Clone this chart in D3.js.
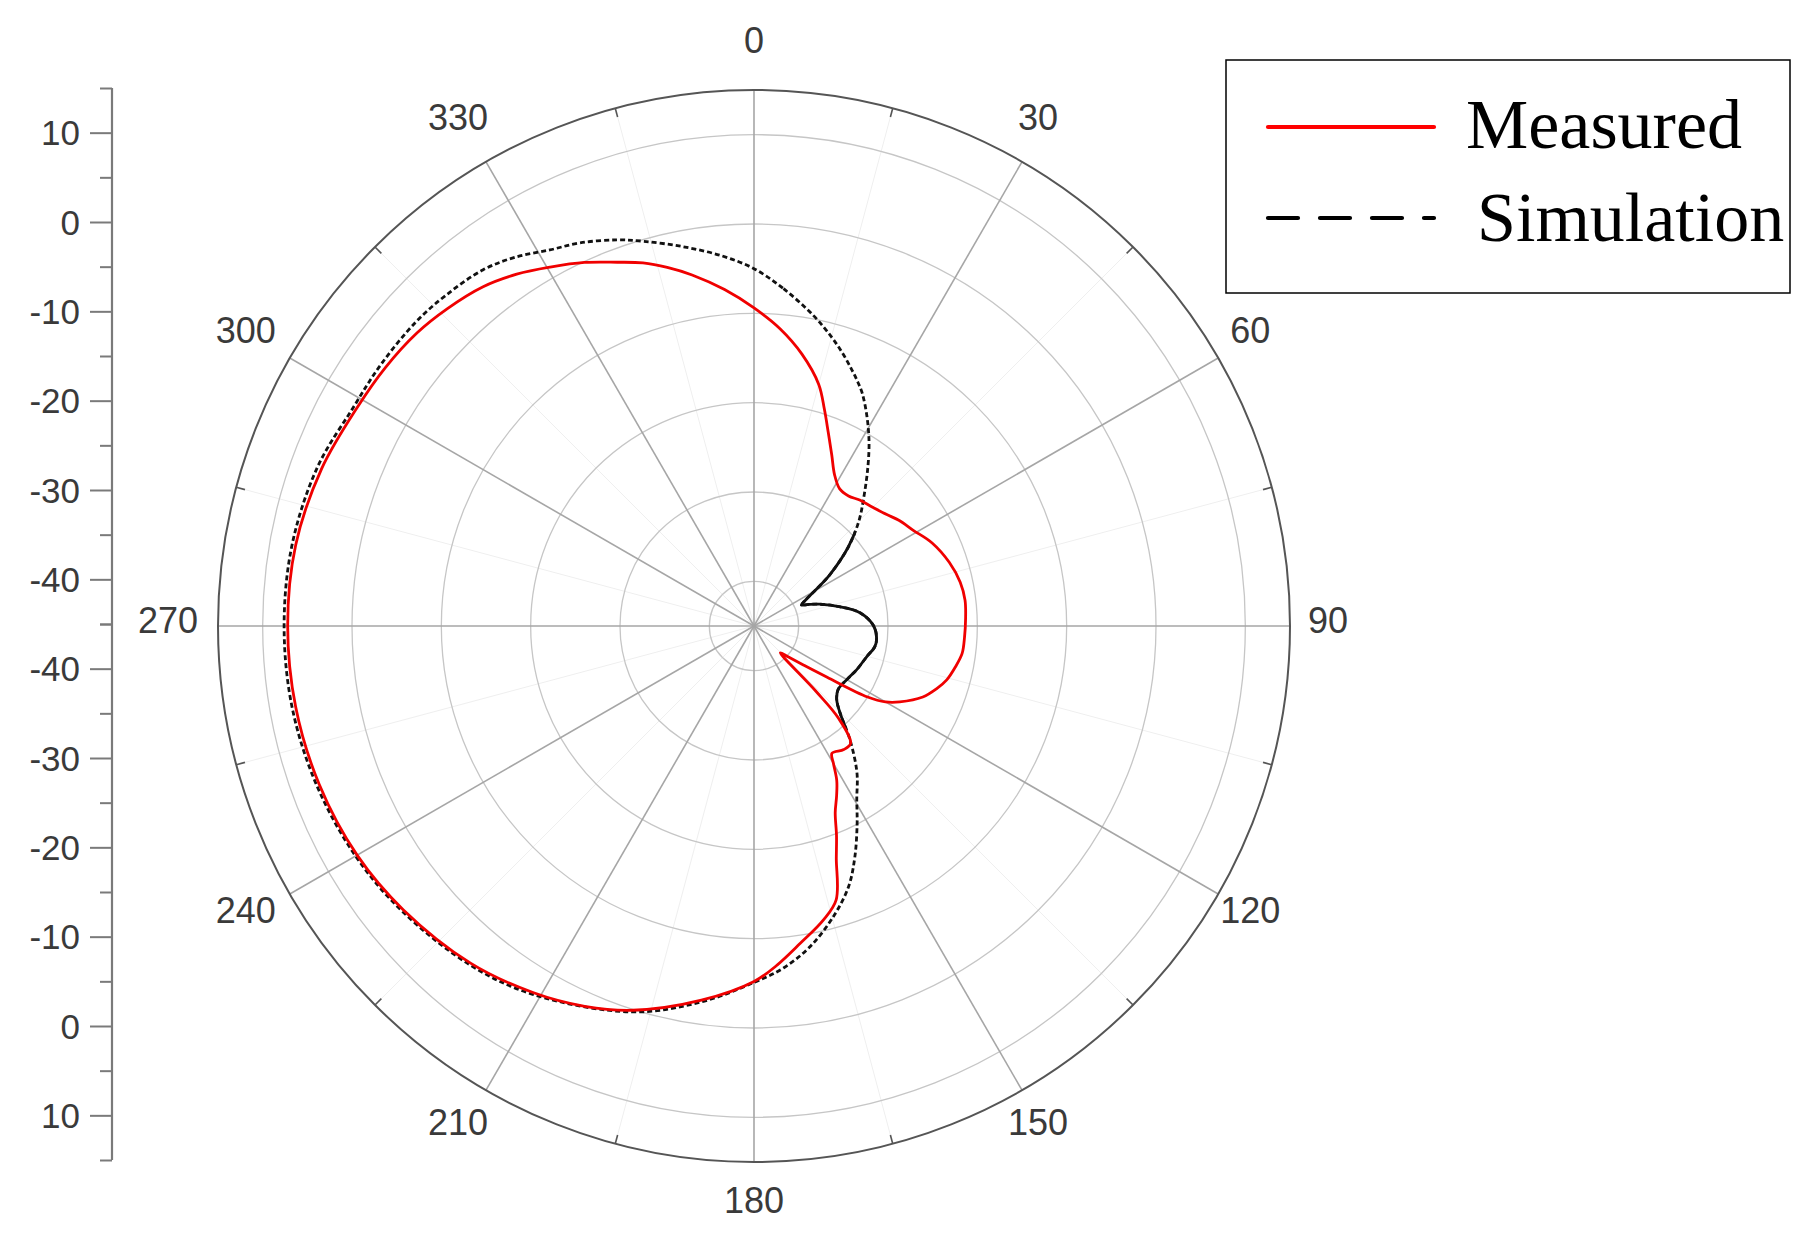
<!DOCTYPE html>
<html>
<head>
<meta charset="utf-8">
<script src="https://cdn.jsdelivr.net/npm/d3@7"></script>
<style>
  html, body { margin: 0; padding: 0; background: #ffffff; }
  svg { display: block; }
</style>
</head>
<body>
<svg id="chart" width="1817" height="1240"></svg>
<script>
// ---------------- data ----------------
const angleTicks = [0, 30, 60, 90, 120, 150, 180, 210, 240, 270, 300, 330];
const minorAngleTicks = [15, 45, 75, 105, 135, 165, 195, 225, 255, 285, 315, 345];
const radialGridValues = [-40, -30, -20, -10, 0, 10];
const axisMajorTicks = [10, 0, -10, -20, -30, -40];
const axisMinorTicks = [15, 5, -5, -15, -25, -35, -45];

const measuredAngles = [0, 5, 10, 15, 18, 21, 24.5, 28, 32, 36, 40, 45, 50, 54, 59, 65, 72, 78, 83, 88, 93, 97.5,
  101.5, 105.6, 109, 112.8, 117.5, 120, 122, 125, 128.2, 132, 135.5, 136.5, 137.5, 140.5, 144, 148.5, 150, 151.8,
  154, 156.5, 158.5, 160.5, 163.3, 166.7, 171.7, 176, 180, 188, 197.5, 204, 211, 220, 231, 240, 250, 260, 270,
  280, 290, 299, 305, 311, 316, 321.4, 326, 330.4, 335, 339.4, 343, 346.4, 350, 355];
const measuredValues = [-9.4, -11.6, -14.1, -17.0, -19.5, -21.8, -24.0, -25.8, -26.9, -27.0, -26.6, -26.2, -25.6, -24.9, -24.2, -23.0, -22.0, -21.4, -21.2, -21.3, -21.4, -21.5,
  -22.0, -22.6, -23.4, -24.5, -26.6, -28.0, -30.0, -35.0, -37.9, -39.8, -40.8, -35.0, -31.0, -28.0, -27.9, -28.3, -27.2, -25.4,
  -23.9, -22.2, -19.8, -17.4, -13.0, -11.2, -9.1, -7.0, -5.2, -2.7, 0.1, 1.6, 2.9, 4.3, 5.5, 6.3, 6.8, 7.1, 7.2,
  7.1, 6.5, 5.7, 5.4, 5.0, 4.4, 3.6, 2.5, 1.2, -0.1, -1.5, -2.5, -3.7, -5.1, -7.2];

const simulationAngles = [0, 5, 10.8, 15, 18, 20.9, 23, 25, 28.4, 32, 35.6, 40, 45, 50, 56, 60, 63.5, 66.2, 68.5, 71.5, 77.5,
  83, 90, 96, 100, 105, 113, 120, 127, 131.7, 135.3, 139.9, 145, 149.4, 152.5, 156.4, 160, 164.5, 170, 175, 180,
  188, 197.5, 211, 220, 231, 240, 250, 260, 270, 280, 290, 298.5, 305, 312, 317, 322.7, 327, 331.5, 335.6, 340.5,
  344, 349.4, 355];
const simulationValues = [-5.0, -7.1, -9.6, -11.5, -12.9, -14.3, -15.3, -16.3, -18.4, -20.7, -23.1, -25.8, -28.4, -31.2, -34.8, -37.2, -38.6, -39.2, -38.4, -37.3, -35.1,
  -33.0, -31.6, -31.2, -31.3, -31.9, -32.5, -33.0, -33.2, -32.6, -31.3, -28.3, -24.9, -22.4, -20.0, -16.8, -14.0, -11.4, -8.6, -6.6, -5.1,
  -2.5, 0.3, 3.1, 4.5, 5.7, 6.5, 7.1, 7.5, 7.6, 7.5, 7.0, 6.1, 6.0, 5.9, 5.6, 5.1, 4.2, 2.9, 2.1, 0.85,
  -0.2, -1.8, -3.4];

const seriesNames = ["Measured", "Simulation"];

// ---------------- layout ----------------
const svg = d3.select("#chart");
const cx = 754, cy = 626, R = 536;
const rScale = d3.scaleLinear().domain([-45, 15]).range([0, R]);
const toRad = d => d * Math.PI / 180;

const g = svg.append("g").attr("transform", `translate(${cx},${cy})`);

// minor spokes (very faint)
g.selectAll("line.minorSpoke").data(minorAngleTicks).join("line")
  .attr("x1", 0).attr("y1", 0)
  .attr("x2", d => R * Math.sin(toRad(d))).attr("y2", d => -R * Math.cos(toRad(d)))
  .attr("stroke", "#efefef").attr("stroke-width", 1);

// grid rings
g.selectAll("circle.ring").data(radialGridValues).join("circle")
  .attr("r", d => rScale(d)).attr("fill", "none")
  .attr("stroke", "#c6c6c6").attr("stroke-width", 1.3);

// major spokes
g.selectAll("line.spoke").data(angleTicks).join("line")
  .attr("x1", 0).attr("y1", 0)
  .attr("x2", d => R * Math.sin(toRad(d))).attr("y2", d => -R * Math.cos(toRad(d)))
  .attr("stroke", "#a6a6a6").attr("stroke-width", 1.6);

// outer circle
g.append("circle").attr("r", rScale(15)).attr("fill", "none")
  .attr("stroke", "#555").attr("stroke-width", 2);

// outer minor ticks (inward)
g.selectAll("line.otick").data(minorAngleTicks).join("line")
  .attr("x1", d => R * Math.sin(toRad(d))).attr("y1", d => -R * Math.cos(toRad(d)))
  .attr("x2", d => (R - 9) * Math.sin(toRad(d))).attr("y2", d => -(R - 9) * Math.cos(toRad(d)))
  .attr("stroke", "#555").attr("stroke-width", 1.6);

// angle labels
const labelR = 580;
g.selectAll("text.alabel").data(angleTicks).join("text")
  .attr("x", d => labelR * Math.sin(toRad(d)) + (d % 180 === 0 ? 0 : -6))
  .attr("y", d => -labelR * Math.cos(toRad(d)) - 6)
  .attr("text-anchor", "middle").attr("dominant-baseline", "central")
  .attr("font-family", "'Liberation Sans', Arial, sans-serif")
  .attr("font-size", 36).attr("fill", "#3a3a3a")
  .text(d => d);

// series
const measured = measuredAngles.map((a, i) => [a, measuredValues[i]]);
const simulation = simulationAngles.map((a, i) => [a, simulationValues[i]]);
const radialLine = d3.lineRadial()
  .angle(d => toRad(d[0]))
  .radius(d => rScale(d[1]))
  .curve(d3.curveCatmullRomClosed.alpha(0.5));

// clip for the inner (solid-looking) part of the simulation trace
svg.append("defs").append("clipPath").attr("id", "innerClip")
  .append("circle").attr("r", rScale(-29.5));

g.append("path").datum(simulation)
  .attr("d", radialLine).attr("fill", "none")
  .attr("stroke", "#111").attr("stroke-width", 2.8)
  .attr("stroke-dasharray", "5,3");
g.append("path").datum(simulation)
  .attr("d", radialLine).attr("fill", "none")
  .attr("clip-path", "url(#innerClip)")
  .attr("stroke", "#111").attr("stroke-width", 2.8);

g.append("path").datum(measured)
  .attr("d", radialLine).attr("fill", "none")
  .attr("stroke", "#f00000").attr("stroke-width", 2.8)
  .attr("stroke-linejoin", "round");

// ---------------- left radial axis ----------------
const axisX = 112;
const axisCy = cy - 2;
const topScale = d3.scaleLinear().domain([15, -45]).range([axisCy - R, axisCy]);
const botScale = d3.scaleLinear().domain([-45, 15]).range([axisCy, axisCy + R]);
const axisColor = "#7a7a7a";

svg.append("line")
  .attr("x1", axisX).attr("x2", axisX)
  .attr("y1", topScale(15)).attr("y2", botScale(15))
  .attr("stroke", axisColor).attr("stroke-width", 2.2);

[topScale, botScale].forEach(sc => {
  const major = svg.append("g").attr("transform", `translate(${axisX},0)`)
    .call(d3.axisLeft(sc).tickValues(axisMajorTicks).tickSize(22).tickSizeOuter(0).tickPadding(10).tickFormat(d => String(d)));
  major.select(".domain").remove();
  major.selectAll(".tick line").attr("stroke", axisColor).attr("stroke-width", 2);
  major.selectAll(".tick text")
    .attr("font-family", "'Liberation Sans', Arial, sans-serif")
    .attr("font-size", 35).attr("fill", "#3a3a3a").attr("dy", "0.35em");

  const minor = svg.append("g").attr("transform", `translate(${axisX},0)`)
    .call(d3.axisLeft(sc).tickValues(axisMinorTicks).tickSize(12).tickSizeOuter(0).tickFormat(""));
  minor.select(".domain").remove();
  minor.selectAll(".tick line").attr("stroke", axisColor).attr("stroke-width", 2);
});

// ---------------- legend ----------------
const legend = svg.append("g");
legend.append("rect")
  .attr("x", 1226).attr("y", 60).attr("width", 564).attr("height", 233)
  .attr("fill", "#fff").attr("stroke", "#000").attr("stroke-width", 1.5);

const legendItems = [
  { name: seriesNames[0], color: "#ff0000", dash: null, y: 127, tx: 1466, ty: 148 },
  { name: seriesNames[1], color: "#000", dash: "30,22", y: 218, tx: 1477, ty: 241 }
];
legendItems.forEach(it => {
  legend.append("line")
    .attr("x1", 1268).attr("x2", 1434).attr("y1", it.y).attr("y2", it.y)
    .attr("stroke", it.color).attr("stroke-width", 4.2)
    .attr("stroke-linecap", "round")
    .attr("stroke-dasharray", it.dash);
  legend.append("text")
    .attr("x", it.tx).attr("y", it.ty)
    .attr("font-family", "'Liberation Serif', 'Times New Roman', serif")
    .attr("font-size", 70).attr("fill", "#000")
    .text(it.name);
});
</script>
</body>
</html>
